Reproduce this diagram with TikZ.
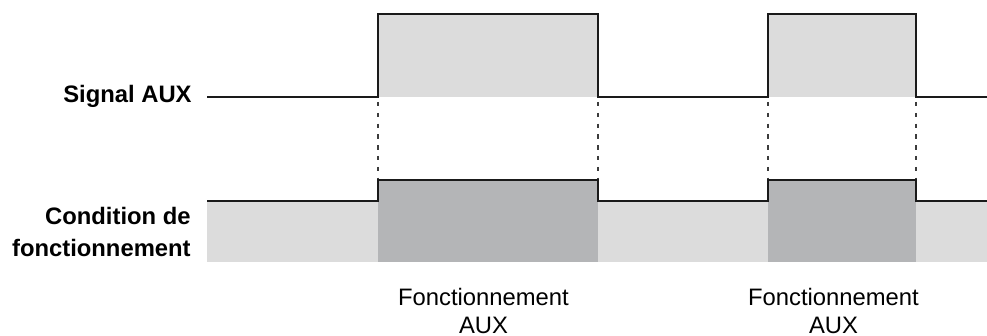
\documentclass[tikz,border=0pt]{standalone}
\usepackage{fontspec}
\setmainfont{Liberation Sans}
\usetikzlibrary{positioning}
\definecolor{lightfill}{HTML}{DCDCDC}
\definecolor{darkfill}{HTML}{B4B5B7}
\definecolor{wavecol}{HTML}{1A1A1A}
\tikzset{x=0.5pt,y=-0.5pt,
  waveline/.style={draw=wavecol,line width=1.2pt},
  syncline/.style={draw=wavecol!85,line width=1.1pt,dash pattern=on 2.2pt off 3.2pt},
  rowlabel/.style={font=\bfseries\fontsize{11.9}{16}\selectfont,align=right,inner sep=0pt},
  oplabel/.style={font=\fontsize{11.9}{14}\selectfont,align=center,inner sep=0pt}}

\begin{document}
\begin{tikzpicture}
  \useasboundingbox (0,0) rectangle (987,336);

  \fill[lightfill] (378,14) rectangle (598,97);
  \fill[lightfill] (768,14) rectangle (916,97);
  \fill[lightfill] (207,201) rectangle (987,262);
  \fill[darkfill] (378,180) rectangle (598,262);
  \fill[darkfill] (768,180) rectangle (916,262);

  \draw[waveline] (207,97) -| (378,14) -| (598,97) -| (768,14) -| (916,97) -- (987,97);
  \draw[waveline] (207,201) -| (378,180) -| (598,201) -| (768,180) -| (916,201) -- (987,201);

  \foreach \x in {378,598,768,916}
    \draw[syncline] (\x,102) -- (\x,178);

  \node[rowlabel,anchor=base east] (sig) at (192,103) {Signal AUX};
  \node[rowlabel,anchor=north east] (cond) at (191,207) {Condition de\\fonctionnement};
  \node[oplabel,anchor=north] (op1) at (483.5,288) {Fonctionnement\\AUX};
  \node[oplabel,anchor=north] (op2) at (833.5,288) {Fonctionnement\\AUX};
\end{tikzpicture}
\end{document}
